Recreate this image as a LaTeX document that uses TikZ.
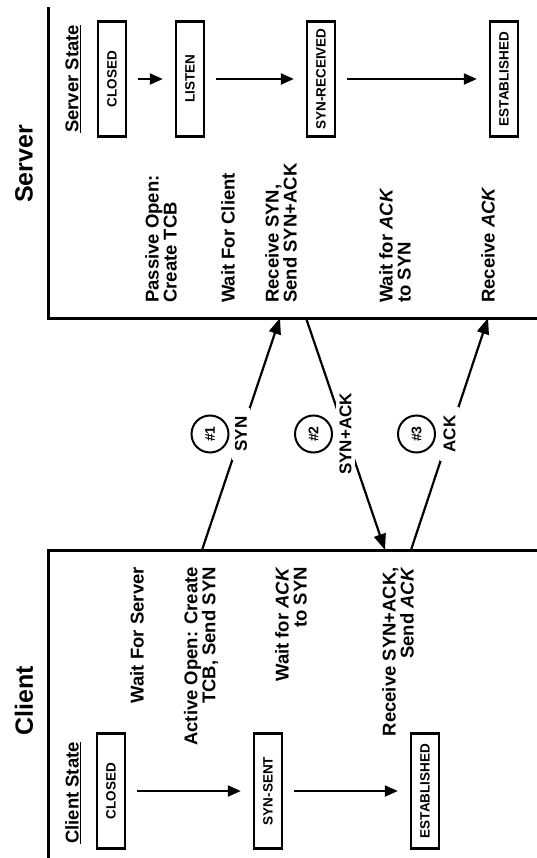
\documentclass[tikz,border=0pt]{standalone}
\usepackage{fontspec}
\setmainfont{Liberation Sans}
\usetikzlibrary{positioning,arrows.meta}

\begin{document}
\begin{tikzpicture}[x=1pt,y=-1pt,
  font=\bfseries\fontsize{18.5}{18}\selectfont,
  st/.style={rectangle,draw,line width=2.4pt,rotate=90,minimum width=115pt,minimum height=28pt,inner sep=0,font=\bfseries\fontsize{13.5}{14}\selectfont},
  ar/.style={-{Triangle[length=13pt,width=11pt]},line width=2.2pt,shorten <=11pt,shorten >=12pt},
  ms/.style={-{Triangle[length=16pt,width=12pt]},line width=2.2pt},
  tx/.style={rotate=90,inner sep=0},
  lb/.style={rotate=90,fill=white,inner xsep=9pt,inner ysep=3pt,font=\bfseries\fontsize{17}{17}\selectfont},
  nm/.style={circle,draw,line width=2pt,minimum size=37pt,inner sep=0,rotate=90,font=\bfseries\fontsize{14}{14}\selectfont},
  ln/.style={line width=3pt},
]
\useasboundingbox (0,0) rectangle (536,858);
% --- the two sides ---
\draw[ln] (48,7) -- (48,318) -- (540,318);
\draw[ln] (540,550) -- (48,550) -- (48,862);
\node[tx,font=\bfseries\fontsize{25}{25}\selectfont] (tserver) at (24,164) {Server};
\node[tx,font=\bfseries\fontsize{25}{25}\selectfont] (tclient) at (24,701) {Client};
% --- server states ---
\node[tx] (hserver) at (73,79) {\underline{Server State}};
\node[st] (sclosed) at (112,79) {CLOSED};
\node[st] (slisten) at (190,79) {LISTEN};
\node[st] (srcvd) at (321,79) {SYN-RECEIVED};
\node[st] (sest) at (504,79) {ESTABLISHED};
\draw[ar] (sclosed) -- (slisten);
\draw[ar] (slisten) -- (srcvd);
\draw[ar] (srcvd) -- (sest);
% --- client states ---
\node[tx] (hclient) at (73,793) {\underline{Client State}};
\node[st] (cclosed) at (111,791) {CLOSED};
\node[st] (csent) at (268,791) {SYN-SENT};
\node[st] (cest) at (425,791) {ESTABLISHED};
\draw[ar] (cclosed) -- (csent);
\draw[ar] (csent) -- (cest);
% --- what each side does ---
\node[tx,anchor=west,align=left] (pso) at (161,303) {Passive Open:\\Create TCB};
\node[tx,anchor=west,align=left] (wfc) at (228,303) {Wait For Client};
\node[tx,anchor=west,align=left] (rsy) at (281,303) {Receive SYN,\\Send SYN+ACK};
\node[tx,anchor=west,align=left] (wfa) at (395,303) {Wait for \textit{ACK}\\to SYN};
\node[tx,anchor=west,align=left] (rak) at (488,303) {Receive \textit{ACK}};
\node[tx,anchor=east,align=right] (wfs) at (137,567) {Wait For Server};
\node[tx,anchor=east,align=right] (aco) at (201,567) {Active Open: Create\\TCB, Send SYN};
\node[tx,anchor=east,align=right] (wfk) at (291,567) {Wait for \textit{ACK}\\to SYN};
\node[tx,anchor=east,align=right] (rsa) at (398,567) {Receive SYN+ACK,\\Send \textit{ACK}};
% --- the three messages ---
\coordinate (c1) at (202,550); \coordinate (s1) at (280,318);
\coordinate (s2) at (306,318); \coordinate (c2) at (385,550);
\coordinate (c3) at (411,550); \coordinate (s3) at (488,318);
\draw[ms] (c1) -- node[lb] (lsyn) {SYN} (s1);
\draw[ms] (s2) -- node[lb] (lsynack) {SYN+ACK} (c2);
\draw[ms] (c3) -- node[lb] (lack) {ACK} (s3);
\node[nm] (n1) at ([xshift=-31pt]lsyn.center) {\#1};
\node[nm] (n2) at ([xshift=-32pt]lsynack.center) {\#2};
\node[nm] (n3) at ([xshift=-33pt]lack.center) {\#3};
\end{tikzpicture}
\end{document}
